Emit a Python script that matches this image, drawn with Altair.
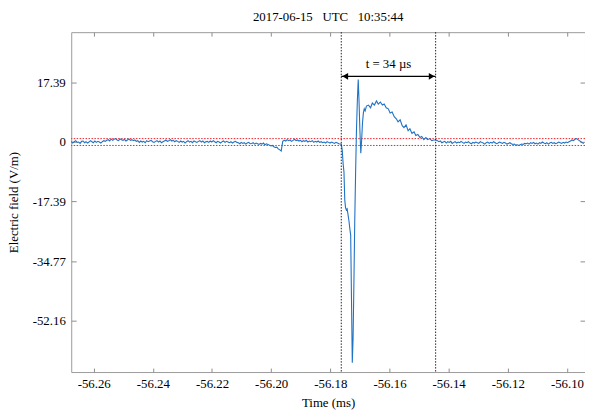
import altair as alt
import pandas as pd

title_text = "2017-06-15\u00a0\u00a0\u00a0UTC\u00a0\u00a0\u00a010:35:44"
x_title = "Time (ms)"
y_title = "Electric field (V/m)"
label_text = "t = 34 \u00b5s"

# noise sampled on a regular time grid (ms) before and after the pulse
pre_start = -56.2676
post_start = -56.1443
sample_step = 0.0005

pre_values = [
    0.2, -0.3, 0.1, 0.4, -0.1, 0.0, -0.4, 0.2, 0.3, -0.2, 0.1, -0.3, 0.0, 0.4, 0.1,
    -0.2, 0.3, -0.1, 0.2, 0.0, -0.3, 0.1, 0.4, 0.2, 0.5,
    0.7, 0.3, 0.9, 0.5, 0.8, 1.0, 0.6, 0.4, 0.9, 0.7, 0.5, 0.8, 0.3, 0.6, 0.9, 0.5, 0.7, 0.4, 0.6,
    0.2, 0.4, -0.1, 0.3, 0.0, 0.2, -0.2, 0.4, 0.1, 0.3,
    0.5, 0.1, -0.1, 0.2, 0.4, 0.0, 0.3, -0.2, 0.1, 0.3,
    0.6, 0.2, 0.4, 0.7, 0.3, 0.5, 0.1, 0.4, 0.2, -0.1,
    0.3, 0.0, 0.2, -0.3, 0.1, 0.4, 0.0, 0.2, -0.2, 0.3,
    0.1, -0.1, 0.2, 0.4, 0.0, 0.3, -0.2, 0.1, 0.2, -0.1,
    0.3, 0.0, 0.4, 0.1, -0.2, 0.2, 0.0, -0.3, 0.1, 0.3,
    -0.1, 0.2, 0.0, -0.2, 0.1, -0.3, 0.0, 0.2, -0.1,
    -0.2, -0.5, -0.1, -0.4, -0.2, -0.6, -0.3, -0.1, -0.5, -0.4, -0.2, -0.6, -0.3, -0.5,
    -0.7, -0.4, -0.6, -0.3, -0.8, -0.5, -0.7,
    -0.9, -1.1, -1.0, -1.4, -1.6, -1.5, -2.0, -2.3, -2.6,
    0.2,
    0.5, 0.3, 0.7, 0.4, 0.6, 0.2, 0.5, 0.8, 0.4, 0.6, 0.3, 0.5, 0.1, 0.4, 0.2, 0.5, 0.0,
    0.3, 0.1, 0.4, -0.1, 0.2, 0.0, 0.3, -0.1,
    0.1, -0.2, 0.0, -0.3, 0.1, -0.1, -0.3, 0.0, -0.2, -0.4, -0.1, -0.3, -0.5,
]

spike_times = [
    -56.17629, -56.17596, -56.17569, -56.17539, -56.17512, -56.17485, -56.17459,
    -56.17432, -56.17402, -56.17368, -56.17338, -56.17312, -56.17285, -56.17258,
    -56.17231, -56.17201, -56.17174, -56.17144, -56.17117, -56.17087, -56.17057,
    -56.17030, -56.17000, -56.16970, -56.16943, -56.16913, -56.16883, -56.16853,
    -56.16823,
    -56.1678, -56.1671, -56.1664, -56.1658, -56.1651, -56.1644, -56.1638, -56.1631,
    -56.1624, -56.1618, -56.1611, -56.1604, -56.1598, -56.1591, -56.1584, -56.1577,
    -56.1571, -56.1564, -56.1557, -56.1551, -56.1544, -56.1537, -56.1531, -56.1524,
    -56.1517, -56.1511, -56.1504, -56.1497, -56.1491, -56.1484, -56.1477, -56.1471,
    -56.1464, -56.1457, -56.1450,
]
spike_values = [
    -0.6, -2.5, -6.2, -8.8, -16.9, -19.2, -19.8,
    -19.5, -21.2, -23.2, -25.5, -27.2, -45.7, -64.5,
    -57.3, -40.0, -22.7, -8.2, 3.3, 12.0, 18.3,
    12.0, 3.3, -3.3, 0.4, 5.6, 8.5, 9.7,
    9.1,
    10.5, 10.8, 10.0, 11.4, 10.8, 12.0, 11.1, 11.7,
    10.8, 11.1, 10.0, 9.7, 8.5, 8.8, 7.4, 6.8,
    5.9, 6.5, 4.8, 4.2, 5.0, 3.3, 3.9, 2.5,
    3.0, 1.9, 2.2, 1.3, 1.6, 0.7, 1.3, 0.7,
    1.0, 0.4, 0.6,
]

post_values = [
    0.6, 0.4, 0.1, 0.3, -0.2, 0.0, 0.2, -0.3, 0.1, -0.1, 0.2, -0.4, -0.1, 0.1, -0.3,
    0.0, -0.2, 0.2, -0.1, -0.4, 0.0,
    -0.2, 0.1, -0.3, -0.5, -0.1, -0.3, 0.0, -0.2, -0.4, 0.1, -0.1, -0.3, -0.6, -0.2, 0.0,
    -0.4, -0.1, -0.3, 0.1, -0.2, -0.5, -0.3, 0.0, -0.2, -0.4, -0.1, -0.3, -0.6, -0.4, -0.2,
    -0.5, -0.7, -0.6, -0.9, -0.8, -1.0, -0.8, -0.6, -0.7, -0.4, -0.5, -0.3,
    -0.6, -0.2, -0.4, -0.1, -0.5, -0.3, -0.6, -0.2, -0.4, 0.0, -0.3, -0.5, -0.2, -0.6,
    -0.3, -0.1, -0.4, -0.2, -0.5, -0.3, 0.0, -0.2, -0.4, -0.1, -0.3, 0.0, -0.2, 0.1,
    0.3, 0.6, 0.4, 0.8, 1.0, 0.7, 0.4, 0.1, -0.2, -0.4,
]

x_domain = [-56.2676, -56.0939]
y_domain = [-67.2, 32.1]
x_ticks = [-56.26, -56.24, -56.22, -56.20, -56.18, -56.16, -56.14, -56.12, -56.10]
y_ticks = [17.387, 0.0, -17.387, -34.773, -52.16]

marker_times = [-56.1763, -56.1444]
threshold_levels = [1.0, -1.0]
arrow_level = 19.2
label_level = 22.9

# ---- tables ----
times = [round(pre_start + i * sample_step, 6) for i in range(len(pre_values))]
times += spike_times
times += [round(post_start + i * sample_step, 6) for i in range(len(post_values))]
values = pre_values + spike_values + post_values
wave = pd.DataFrame({"t": times, "v": values})

markers = pd.DataFrame({"t": marker_times})
thresholds = pd.DataFrame({"v": threshold_levels})
arrow = pd.DataFrame({"t1": [marker_times[0]], "t2": [marker_times[1]], "v": [arrow_level]})
heads_left = pd.DataFrame({"t": [marker_times[0]], "v": [arrow_level]})
heads_right = pd.DataFrame({"t": [marker_times[1]], "v": [arrow_level]})
label = pd.DataFrame({"t": [sum(marker_times) / 2], "v": [label_level], "txt": [label_text]})

FONT = "Liberation Serif"
x_scale = alt.Scale(domain=x_domain, nice=False, zero=False)
y_scale = alt.Scale(domain=y_domain, nice=False, zero=False)

common_axis = dict(domain=False, grid=False, tickColor="#8c8c8c", tickWidth=1,
                   labelFont=FONT, labelFontSize=13, labelColor="#000000",
                   titleFont=FONT, titleFontSize=13, titleFontWeight="normal",
                   titleColor="#000000")

x_bottom = alt.Axis(orient="bottom", values=x_ticks, offset=-4, tickSize=4,
                    labelPadding=6, title=x_title, titlePadding=6,
                    labelExpr="'-' + format(abs(datum.value), '.2f')", **common_axis)
y_left = alt.Axis(orient="left", values=y_ticks, offset=-5, tickSize=5,
                  labelPadding=6, title=y_title, titlePadding=12,
                  labelExpr="datum.value == 0 ? '0' : (datum.value < 0 ? '-' : '') + format(abs(datum.value), '.2f')",
                  **common_axis)
x_top = alt.Axis(orient="top", values=x_ticks, offset=-4, tickSize=4, labels=False,
                 title=None, **common_axis)
y_right = alt.Axis(orient="right", values=y_ticks, offset=-5, tickSize=5, labels=False,
                   title=None, **common_axis)

wave_line = alt.Chart(wave).mark_line(color="#1f72c4", strokeWidth=1.1).encode(
    x=alt.X("t:Q", scale=x_scale, axis=x_bottom),
    y=alt.Y("v:Q", scale=y_scale, axis=y_left),
)

threshold_rules = alt.Chart(thresholds).mark_rule(
    color="#ee1c24", strokeWidth=1, strokeDash=[1.5, 1.5]
).encode(y=alt.Y("v:Q", scale=y_scale, axis=y_right))

marker_rules = alt.Chart(markers).mark_rule(
    color="#222222", strokeWidth=1, strokeDash=[1.5, 1.5]
).encode(x=alt.X("t:Q", scale=x_scale, axis=x_top))

arrow_rule = alt.Chart(arrow).mark_rule(color="#000000", strokeWidth=1.2).encode(
    x=alt.X("t1:Q", scale=x_scale, axis=None),
    x2="t2:Q",
    y=alt.Y("v:Q", scale=y_scale, axis=None),
)

head_l = alt.Chart(heads_left).mark_point(
    shape="triangle-left", filled=True, size=45, color="#000000", opacity=1, xOffset=4
).encode(x=alt.X("t:Q", scale=x_scale, axis=None), y=alt.Y("v:Q", scale=y_scale, axis=None))

head_r = alt.Chart(heads_right).mark_point(
    shape="triangle-right", filled=True, size=45, color="#000000", opacity=1, xOffset=-4
).encode(x=alt.X("t:Q", scale=x_scale, axis=None), y=alt.Y("v:Q", scale=y_scale, axis=None))

label_text_mark = alt.Chart(label).mark_text(
    font=FONT, fontSize=13, color="#000000", baseline="middle", align="center"
).encode(
    x=alt.X("t:Q", scale=x_scale, axis=None),
    y=alt.Y("v:Q", scale=y_scale, axis=None),
    text="txt:N",
)

chart = alt.layer(
    threshold_rules, wave_line, marker_rules, arrow_rule, head_l, head_r, label_text_mark
).resolve_axis(x="independent", y="independent").properties(
    width=520,
    height=344,
    title=alt.TitleParams(title_text, font=FONT, fontSize=13, fontWeight="normal",
                          color="#000000", anchor="middle", offset=8),
    autosize=alt.AutoSizeParams(type="none"),
    padding={"left": 64, "top": 22, "right": 0, "bottom": 40},
).configure_view(stroke="#9a9a9a", strokeWidth=1)

chart.save("out.html", embed_options={"renderer": "svg", "actions": False})
